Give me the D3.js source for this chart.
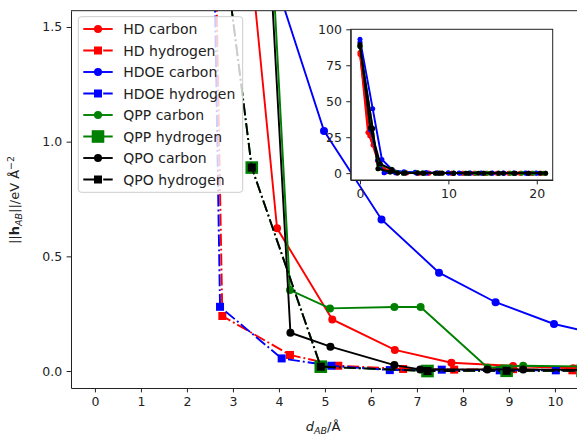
<!DOCTYPE html>
<html><head><meta charset="utf-8">
<script src="https://cdn.jsdelivr.net/npm/d3@7"></script>
<style>body{margin:0;background:#fff} svg{display:block;font-family:"DejaVu Sans",sans-serif}</style>
</head><body><svg id="c" width="577" height="436"></svg>
<script>
// ---- data ----
const seriesLabels = ["HD carbon","HD hydrogen","HDOE carbon","HDOE hydrogen","QPP carbon","QPP hydrogen","QPO carbon","QPO hydrogen"];
const hdCarbonX = [0, 0.9, 1.47, 2.6, 3.96, 5.16, 6.52, 7.75, 9.09, 10.4, 11.7, 13.0, 14.3, 15.6, 16.9, 18.2, 19.5, 20.6];
const hdCarbonY = [83.8, 28.2, 19.5, 3.4, 0.622, 0.225, 0.092, 0.036, 0.022, 0.012, 0.009, 0.007, 0.006, 0.005, 0.004, 0.003, 0.003, 0.002];
const hdHydrogenX = [0, 1.1, 2.0, 2.77, 4.24, 5.29, 6.70, 7.81, 9.09, 10.38, 11.6, 12.9, 14.2, 15.5, 16.8, 18.1, 19.4, 20.3];
const hdHydrogenY = [82.5, 26, 8.7, 0.24, 0.07, 0.023, 0.009, 0.006, 0.008, 0.003, 0.002, 0.002, 0.002, 0.001, 0.001, 0.001, 0.001, 0.001];
const hdoeCarbonX = [0, 1.44, 2.48, 3.73, 4.98, 6.23, 7.48, 8.71, 9.98, 11.2, 12.45, 13.7, 14.95, 16.2, 17.4, 18.7, 19.9];
const hdoeCarbonY = [93, 44.8, 9.5, 1.82, 1.047, 0.661, 0.429, 0.30, 0.205, 0.15, 0.11, 0.08, 0.06, 0.05, 0.04, 0.03, 0.025];
const hdoeHydrogenX = [0, 1.2, 2.0, 2.72, 4.06, 5.14, 6.41, 7.54, 8.80, 10.02, 11.3, 12.5, 13.8, 15.0, 16.3, 17.5, 18.8, 20.0];
const hdoeHydrogenY = [91, 30, 8.9, 0.28, 0.055, 0.023, 0.004, 0.006, 0.003, 0.003, 0.002, 0.002, 0.001, 0.001, 0.001, 0.001, 0.001, 0.001];
const qppCarbonX = [0, 1.17, 2.2, 3.6, 4.24, 5.11, 6.51, 7.08, 8.54, 9.31, 10.6, 11.9, 13.1, 14.4, 15.7, 17.0, 18.3, 19.6, 20.8];
const qppCarbonY = [89, 31.5, 6, 2.75, 0.353, 0.273, 0.279, 0.279, 0.014, 0.023, 0.02, 0.015, 0.012, 0.01, 0.008, 0.006, 0.005, 0.004, 0.003];
const qppHydrogenX = [0, 1.44, 2.04, 3.41, 4.91, 7.23, 8.95, 10.6, 12.3, 14.0, 15.7, 17.4, 19.1, 21.0];
const qppHydrogenY = [88, 31, 3.05, 0.887, 0.019, 0.0, 0.001, 0.001, 0.0, 0.0, 0.0, 0.0, 0.0, 0.0];
const qpoCarbonX = [0, 1.17, 2.3, 3.6, 4.25, 5.12, 6.51, 7.07, 8.53, 9.31, 10.6, 12.0, 13.4, 14.8, 16.2, 17.6, 19.0, 20.4];
const qpoCarbonY = [89.5, 31.5, 6.5, 2.55, 0.167, 0.106, 0.026, 0.007, 0.007, 0.007, 0.005, 0.004, 0.003, 0.003, 0.002, 0.002, 0.002, 0.001];
const qpoHydrogenX = [0, 1.44, 2.04, 3.41, 4.91, 7.23, 8.95, 10.6, 12.3, 14.0, 15.7, 17.4, 19.1, 21.0];
const qpoHydrogenY = [88, 31, 3.05, 0.887, 0.019, 0.0, 0.001, 0.001, 0.0, 0.0, 0.0, 0.0, 0.0, 0.0];
const mainXTicks = [0,1,2,3,4,5,6,7,8,9,10];
const mainYTicks = [0.0, 0.5, 1.0, 1.5];
const insetXTicks = [0,10,20];
const insetYTicks = [0,25,50,75,100];

// ---- styles ----
const styles = [
  {c:"#ff0000", dash:false, m:"circle", s:4},
  {c:"#ff0000", dash:true,  m:"square", s:4},
  {c:"#0000ff", dash:false, m:"circle", s:4},
  {c:"#0000ff", dash:true,  m:"square", s:4},
  {c:"#008000", dash:false, m:"circle", s:4},
  {c:"#008000", dash:true,  m:"square", s:6.3},
  {c:"#000000", dash:false, m:"circle", s:4},
  {c:"#000000", dash:true,  m:"square", s:4}
];
const xs = [hdCarbonX, hdHydrogenX, hdoeCarbonX, hdoeHydrogenX, qppCarbonX, qppHydrogenX, qpoCarbonX, qpoHydrogenX];
const ys = [hdCarbonY, hdHydrogenY, hdoeCarbonY, hdoeHydrogenY, qppCarbonY, qppHydrogenY, qpoCarbonY, qpoHydrogenY];
const series = seriesLabels.map((name,i)=>({name, style:styles[i], pts: xs[i].map((x,j)=>[x, ys[i][j]])}));
const DASHDOT = "12,3,1.9,3";
const TICKFS = 12.5, LEGFS = 14, LABFS = 13;

const svg = d3.select("#c");
const L=71, T=10.7, B=388, R=577;
const x = d3.scaleLinear().domain([-0.52, 10.48]).range([L, R]);
const y = d3.scaleLinear().domain([-0.074, 1.571]).range([B, T]);

svg.append("defs").append("clipPath").attr("id","mainclip")
  .append("rect").attr("x",L).attr("y",T).attr("width",R-L).attr("height",B-T);

function drawMarker(g, m, cx, cy, s, c){
  if(m==="circle") g.append("circle").attr("cx",cx).attr("cy",cy).attr("r",s).attr("fill",c);
  else g.append("rect").attr("x",cx-s).attr("y",cy-s).attr("width",2*s).attr("height",2*s).attr("fill",c);
}

const plot = svg.append("g").attr("clip-path","url(#mainclip)");
series.forEach(sr=>{
  const g = plot.append("g");
  g.append("path").datum(sr.pts)
    .attr("d", d3.line().x(d=>x(d[0])).y(d=>y(d[1])))
    .attr("fill","none").attr("stroke",sr.style.c).attr("stroke-width",1.9)
    .attr("stroke-dasharray", sr.style.dash?DASHDOT:null);
  sr.pts.forEach(p=>{
    if(x(p[0])>L-10 && x(p[0])<R+10 && y(p[1])>T-10) drawMarker(g, sr.style.m, x(p[0]), y(p[1]), sr.style.s, sr.style.c);
  });
});

// axes
const xa = svg.append("g").attr("transform",`translate(0,${B})`)
  .call(d3.axisBottom(x).tickValues(mainXTicks).tickFormat(d3.format("d")).tickSize(4.4).tickPadding(4.4).tickSizeOuter(0));
const ya = svg.append("g").attr("transform",`translate(${L},0)`)
  .call(d3.axisLeft(y).tickValues(mainYTicks).tickFormat(d3.format(".1f")).tickSize(4.4).tickPadding(4.4).tickSizeOuter(0));
[xa,ya].forEach(a=>{a.selectAll("text").attr("font-size",TICKFS).attr("fill","#222").attr("font-family","DejaVu Sans"); a.selectAll("line,path").attr("stroke","#222").attr("stroke-width",1);});
svg.append("line").attr("x1",L).attr("x2",R).attr("y1",T).attr("y2",T).attr("stroke","#222").attr("stroke-width",1);

// axis labels
const xl = svg.append("text").attr("x",323).attr("y",431).attr("text-anchor","middle").attr("font-size",LABFS).attr("fill","#222");
xl.append("tspan").attr("font-style","italic").text("d");
xl.append("tspan").attr("font-style","italic").attr("font-size",9.5).attr("dy",3).text("AB");
xl.append("tspan").attr("dy",-3).text("/Å");
const yl = svg.append("text").attr("transform","translate(19,200) rotate(-90)").attr("text-anchor","middle").attr("font-size",LABFS).attr("fill","#222");
yl.append("tspan").text("||");
yl.append("tspan").attr("font-weight","bold").text("h");
yl.append("tspan").attr("font-style","italic").attr("font-size",9.5).attr("dy",3).text("AB");
yl.append("tspan").attr("dy",-3).text("||/eV Å");
yl.append("tspan").attr("font-size",9.5).attr("dy",-5).text("−2");

// legend
const lg = svg.append("g");
lg.append("rect").attr("x",78.3).attr("y",16.7).attr("width",164.4).attr("height",175.6).attr("rx",3)
  .attr("fill","#fff").attr("fill-opacity",0.8).attr("stroke","#ccc").attr("stroke-width",1);
series.forEach((sr,i)=>{
  const cy = 29 + i*21.5;
  lg.append("line").attr("x1",83.3).attr("x2",112.7).attr("y1",cy).attr("y2",cy)
    .attr("stroke",sr.style.c).attr("stroke-width",1.9).attr("stroke-dasharray",sr.style.dash?DASHDOT:null);
  drawMarker(lg, sr.style.m, 98, cy, sr.style.s, sr.style.c);
  lg.append("text").attr("x",123.3).attr("y",cy+5).attr("font-size",LEGFS).attr("fill","#222").text(sr.name);
});

// inset
const iL=350.7, iR=552.7, iT=29.3, iB=180;
const xi = d3.scaleLinear().domain([-1.05, 21.8]).range([iL, iR]);
const yi = d3.scaleLinear().domain([-4.76, 100]).range([iB, iT]);
svg.append("rect").attr("x",iL).attr("y",iT).attr("width",iR-iL).attr("height",iB-iT).attr("fill","#fff");
svg.select("defs").append("clipPath").attr("id","insetclip")
  .append("rect").attr("x",iL).attr("y",iT).attr("width",iR-iL).attr("height",iB-iT);
const ip = svg.append("g").attr("clip-path","url(#insetclip)");
series.forEach(sr=>{
  const g = ip.append("g");
  g.append("path").datum(sr.pts)
    .attr("d", d3.line().x(d=>xi(d[0])).y(d=>yi(d[1])))
    .attr("fill","none").attr("stroke",sr.style.c).attr("stroke-width",1.9);
  sr.pts.forEach(p=> g.append("circle").attr("cx",xi(p[0])).attr("cy",yi(p[1])).attr("r",2.5).attr("fill",sr.style.c));
});
const ixa = svg.append("g").attr("transform",`translate(0,${iB})`)
  .call(d3.axisBottom(xi).tickValues(insetXTicks).tickFormat(d3.format("d")).tickSize(4.4).tickPadding(4.4).tickSizeOuter(0));
const iya = svg.append("g").attr("transform",`translate(${iL},0)`)
  .call(d3.axisLeft(yi).tickValues(insetYTicks).tickFormat(d3.format("d")).tickSize(4.4).tickPadding(4.4).tickSizeOuter(0));
[ixa,iya].forEach(a=>{a.selectAll("text").attr("font-size",TICKFS).attr("fill","#222").attr("font-family","DejaVu Sans"); a.selectAll("line,path").attr("stroke","#222").attr("stroke-width",1);});
svg.append("rect").attr("x",iL).attr("y",iT).attr("width",iR-iL).attr("height",iB-iT).attr("fill","none").attr("stroke","#222").attr("stroke-width",1);
</script></body></html>
